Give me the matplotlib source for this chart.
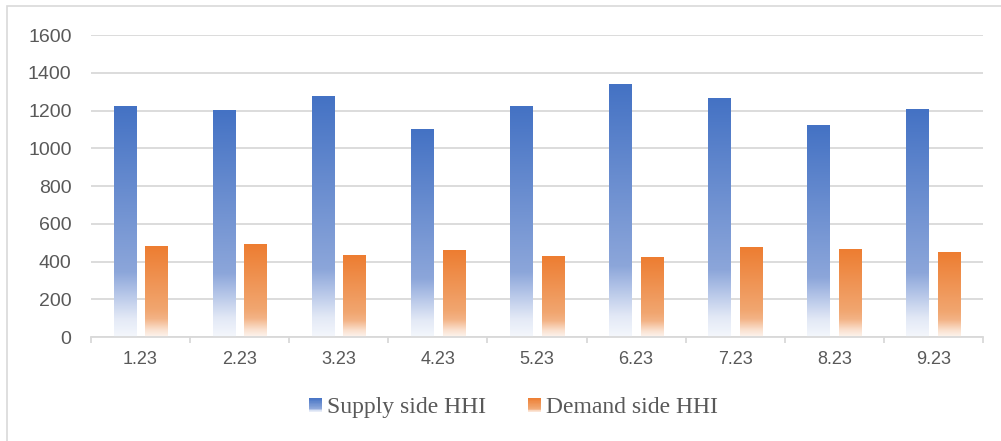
import numpy as np
import matplotlib
matplotlib.use("Agg")
from matplotlib import pyplot as plt
from matplotlib.colors import LinearSegmentedColormap
from matplotlib.patches import Rectangle
from matplotlib.legend_handler import HandlerBase

months = ["1.23", "2.23", "3.23", "4.23", "5.23", "6.23", "7.23", "8.23", "9.23"]
supply_hhi = [1222, 1202, 1275, 1100, 1221, 1340, 1265, 1122, 1207]
demand_hhi = [480, 491, 433, 459, 428, 423, 476, 465, 449]

text_col = "#595959"
grid_col = "#D9D9D9"

# gradients run bottom (0) -> top (1) of each bar
blue_cmap = LinearSegmentedColormap.from_list(
  "blue_fade", [(0.0, "#F4F7FC"), (0.08, "#E3E9F6"), (0.2, "#AFC1E6"),
                (0.28, "#8CA6DA"), (1.0, "#4472C4")])
orange_cmap = LinearSegmentedColormap.from_list(
  "orange_fade", [(0.0, "#FDF4EE"), (0.08, "#FAE0CE"), (0.2, "#F3B386"),
                  (0.3, "#F1A670"), (1.0, "#ED7D31")])

class GradientHandler(HandlerBase):
  def __init__(self, cmap):
    super().__init__()
    self.cmap = cmap
  def create_artists(self, legend, orig_handle, xdescent, ydescent, width, height, fontsize, trans):
    n = 24
    out = []
    for k in range(n):
      out.append(Rectangle((-xdescent, -ydescent + height * k / n), width, height / n * 1.05,
                           facecolor=self.cmap((k + 0.5) / n), edgecolor="none", transform=trans))
    return out

def gradient_bars(ax, xs, heights, width, cmap):
  grad = np.linspace(0, 1, 256).reshape(-1, 1)
  for x, h in zip(xs, heights):
    ax.imshow(grad, extent=[x - width / 2, x + width / 2, 0, h], origin="lower",
              aspect="auto", cmap=cmap, vmin=0, vmax=1, interpolation="bilinear", zorder=3)

fig = plt.figure(figsize=(10.01, 4.41), dpi=100)
ax = fig.add_axes([0.0909, 0.2358, 0.8911, 0.6848])

x = np.arange(len(months))
w = 0.225
gradient_bars(ax, x - 0.16, supply_hhi, w, blue_cmap)
gradient_bars(ax, x + 0.16, demand_hhi, w, orange_cmap)

ax.set_xlim(-0.5, len(months) - 0.5)
ax.set_ylim(0, 1600)
ax.set_yticks(np.arange(0, 1601, 200))
ax.set_xticks(x)
ax.set_xticklabels(months)
ax.set_xticks(np.arange(-0.5, len(months), 1), minor=True)

ax.grid(axis="y", color=grid_col, linewidth=1.3, zorder=0)
ax.set_axisbelow(True)
for s in ["top", "right", "left"]:
  ax.spines[s].set_visible(False)
ax.spines["bottom"].set_color(grid_col)
ax.spines["bottom"].set_linewidth(1.3)
ax.spines["bottom"].set_zorder(4)

ax.tick_params(axis="y", length=0, pad=14, labelsize=14, labelcolor=text_col)
ax.tick_params(axis="x", which="major", length=0, pad=10, labelsize=13, labelcolor=text_col)
ax.tick_params(axis="x", which="minor", length=4, width=1.3, color=grid_col)
for lab in ax.get_xticklabels() + ax.get_yticklabels():
  lab.set_family("Liberation Sans")

# thin frame round the chart
fig.patches.append(Rectangle((0.007, -0.05), 1.1, 1.036, transform=fig.transFigure,
                             fill=False, edgecolor=grid_col, linewidth=1.2))

h1 = Rectangle((0, 0), 1, 1)
h2 = Rectangle((0, 0), 1, 1)
fig.legend([h1, h2], ["Supply side HHI", "Demand side HHI"],
           handler_map={h1: GradientHandler(blue_cmap), h2: GradientHandler(orange_cmap)},
           loc="center", bbox_to_anchor=(0.513, 0.075), ncol=2, frameon=False,
           prop={"family": "Liberation Serif", "size": 17}, labelcolor=text_col,
           handlelength=0.56, handleheight=0.56, handletextpad=0.22, columnspacing=1.75)

fig.savefig("out.png", dpi=100)
